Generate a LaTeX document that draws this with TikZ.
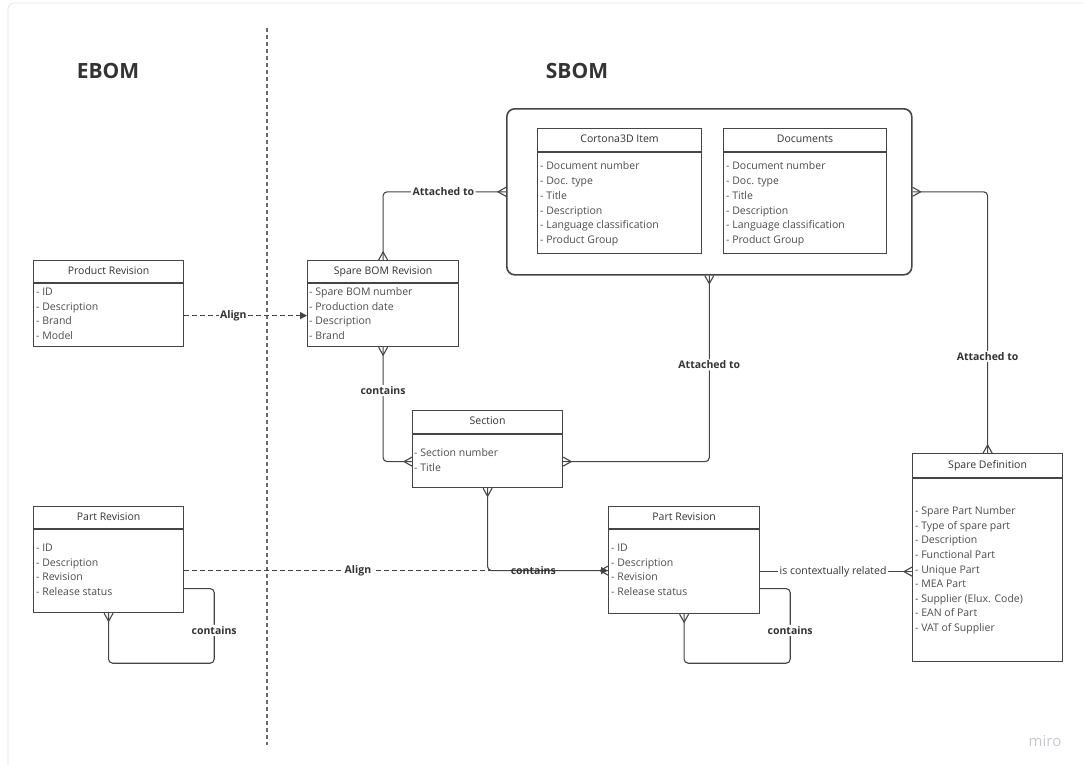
\documentclass[tikz,border=0pt]{standalone}
\usepackage{fontspec}
\setmainfont{Open Sans}
\usetikzlibrary{arrows.meta}
\usetikzlibrary{positioning}

\definecolor{ink}{HTML}{333333}
\definecolor{edge}{HTML}{454545}
\definecolor{itemgray}{HTML}{4d4d4d}
\definecolor{framegray}{HTML}{E6E6E6}
\definecolor{mirogray}{HTML}{C8C8D4}

\tikzset{
  entbox/.style={draw=edge, line width=1.2pt, fill=white, inner sep=0pt},
  thinrule/.style={draw=edge, line width=1.2pt},
  thickrule/.style={draw=edge, line width=2.6pt},
  enttitle/.style={text=ink, font=\fontsize{10.5}{12}\selectfont, inner sep=0pt, text height=7.4pt, text depth=2pt},
  entitem/.style={text=itemgray, font=\fontsize{10.5}{12}\selectfont, anchor=west, inner sep=0pt, text height=7.4pt, text depth=2pt},
  conn/.style={draw=edge, line width=1.1pt, rounded corners=4pt},
  aligned/.style={draw=edge, line width=1.1pt, dash pattern=on 4.5pt off 3.5pt, -{Triangle[length=7pt,width=7pt]}},
  lbl/.style={fill=white, text=ink, font=\bfseries\fontsize{10.5}{12}\selectfont, inner sep=1.5pt},
  crowfoot/.pic={\draw[edge, line width=1.1pt] (0,4.5) -- (8,0) -- (0,-4.5);}
}

% entity: name, x, y, width, height, header height, title, rule style
\newcommand{\entity}[8]{%
  \node[entbox, minimum width=#4pt, minimum height=#5pt, anchor=north west] (#1) at (#2,#3) {};
  \draw[#8] ([yshift=-#6pt]#1.north west) -- ([yshift=-#6pt]#1.north east);
  \node[enttitle] (#1-title) at ([yshift=-#6pt/2]#1.north) {#7};
}
% items: name, x, first y, step, list
\newcommand{\entitems}[5]{%
  \foreach \itm [count=\i] in {#5}
    \node[entitem] (#1-\i) at (#2, #3+#4*\i-#4) {\itm};
}

\begin{document}
\begin{tikzpicture}[x=1pt, y=-1pt]
\useasboundingbox (0,0) rectangle (1084,764);

% board frame
\begin{scope}
\clip (0,0) rectangle (1084,764);
\draw[framegray, line width=0.8pt, rounded corners=6pt] (8,3) rectangle (1110,800);
\end{scope}

\node[text=ink, font=\bfseries\fontsize{21}{24}\selectfont] (ebom) at (108,71) {EBOM};
\node[text=ink, font=\bfseries\fontsize{21}{24}\selectfont] (sbom) at (577,71) {SBOM};
\draw[draw=edge!80, line width=1.1pt, dash pattern=on 4pt off 3pt] (267,28) -- (267,745);

% EBOM side
\entity{prod}{33}{260}{150}{86}{23}{Product Revision}{thinrule}
\entitems{prod}{36}{293}{14.6}{- ID, - Description, - Brand, - Model}

\entity{ebpart}{33}{506}{150}{106}{23}{Part Revision}{thinrule}
\entitems{ebpart}{36}{549}{14.6}{- ID, - Description, - Revision, - Release status}

% SBOM side
\node[draw=edge, line width=1.6pt, rounded corners=8pt, minimum width=405pt, minimum height=166pt, anchor=north west, inner sep=0pt] (cont) at (506,108) {};

\entity{cortona}{537}{128}{164}{125}{24}{Cortona3D Item}{thickrule}
\entitems{cortona}{540}{167}{14.8}{- Document number, - Doc. type, - Title, - Description, - Language classification, - Product Group}

\entity{docs}{723}{128}{163}{125}{24}{Documents}{thickrule}
\entitems{docs}{726}{167}{14.8}{- Document number, - Doc. type, - Title, - Description, - Language classification, - Product Group}

\entity{sbomrev}{307}{260}{151}{86}{23}{Spare BOM Revision}{thinrule}
\entitems{sbomrev}{309}{293}{14.6}{- Spare BOM number, - Production date, - Description, - Brand}

\entity{sect}{412}{410}{150}{77}{24}{Section}{thickrule}
\entitems{sect}{414}{454}{14.6}{- Section number, - Title}

\entity{prs}{608}{506}{151}{107}{23}{Part Revision}{thinrule}
\entitems{prs}{611}{549}{14.6}{- ID, - Description, - Revision, - Release status}

\entity{spdef}{912}{453}{150}{208}{25}{Spare Definition}{thickrule}
\entitems{spdef}{915}{512}{14.6}{- Spare Part Number, - Type of spare part, - Description, - Functional Part, - Unique Part, - MEA Part, - Supplier (Elux. Code), - EAN of Part, - VAT of Supplier}

% relations
\draw[aligned] ([yshift=-12pt]prod.east) -- node[lbl, pos=0.4]{Align} ([yshift=-12pt]sbomrev.west);
\draw[aligned] ([yshift=-11pt]ebpart.east) -- node[lbl, pos=0.41]{Align} ([yshift=-10.5pt]prs.west);

\draw[conn] (sbomrev.north) |- node[lbl, pos=0.745]{Attached to} (cont.west);
\pic[rotate=90] at (sbomrev.north) {crowfoot};
\pic[rotate=180] at (cont.west) {crowfoot};

\draw[conn] (cont.south) |- node[lbl, pos=0.24]{Attached to} ([yshift=-12.5pt]sect.east);
\pic[rotate=-90] at (cont.south) {crowfoot};
\pic at ([yshift=-12.5pt]sect.east) {crowfoot};

\draw[conn] (cont.east) -| node[lbl, pos=0.815]{Attached to} (spdef.north);
\pic at (cont.east) {crowfoot};
\pic[rotate=90] at (spdef.north) {crowfoot};

\draw[conn] (sbomrev.south) |- node[lbl, pos=0.19]{contains} ([yshift=-12.5pt]sect.west);
\pic[rotate=-90] at (sbomrev.south) {crowfoot};
\pic[rotate=180] at ([yshift=-12.5pt]sect.west) {crowfoot};

\draw[conn] (sect.south) |- node[lbl, fill=none, pos=0.69]{contains} ([yshift=-10.5pt]prs.west);
\pic[rotate=-90] at (sect.south) {crowfoot};
\pic[rotate=180] at ([yshift=-10.5pt]prs.west) {crowfoot};

\draw[conn] ([yshift=-11.5pt]prs.east) -- node[lbl, font=\fontsize{10.5}{12}\selectfont, pos=0.48]{is contextually related} ([yshift=-14pt]spdef.west);
\pic[rotate=180] at ([yshift=-14pt]spdef.west) {crowfoot};

\draw[conn] ([yshift=-28.5pt]prs.east) -| node[lbl, pos=0.78]{contains} ([xshift=30pt,yshift=-49pt]prs.south east) -| (prs.south);
\pic[rotate=-90] at (prs.south) {crowfoot};

\draw[conn] ([yshift=-29pt]ebpart.east) -| node[lbl, pos=0.78]{contains} ([xshift=30pt,yshift=-50pt]ebpart.south east) -| (ebpart.south);
\pic[rotate=-90] at (ebpart.south) {crowfoot};

\node[text=mirogray, font=\fontsize{15}{16}\selectfont] (miro) at (1045,741) {miro};
\end{tikzpicture}
\end{document}
